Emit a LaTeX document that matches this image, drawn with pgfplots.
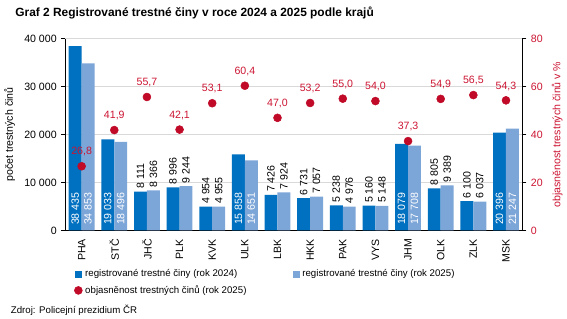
\documentclass[border=0pt]{standalone}
\usepackage{graphicx}
\usepackage{pgfplots}
\pgfplotsset{compat=1.18}
\usepackage{pgfplotstable}
\usepackage{fontspec}
\setmainfont{Liberation Sans}
\definecolor{dblue}{RGB}{0,112,192}
\definecolor{lblue}{RGB}{124,165,216}
\definecolor{dred}{RGB}{192,10,40}
\definecolor{tred}{RGB}{204,20,50}
\pgfplotstableread{
x a24 a25 clr
0 38435 34853 26.8
1 19033 18496 41.9
2 8111 8366 55.7
3 8996 9244 42.1
4 4954 4955 53.1
5 15858 14651 60.4
6 7426 7924 47.0
7 6731 7057 53.2
8 5238 4976 55.0
9 5160 5148 54.0
10 18079 17708 37.3
11 8805 9389 54.9
12 6100 6037 56.5
13 20396 21247 54.3
}\data
\newcommand{\fs}{\fontsize{8}{9.5}\selectfont}
\newcommand{\fl}{\fontsize{7.3}{9}\selectfont}
\newcommand{\rotnum}{\rotatebox{90}{\pgfmathprintnumber[assume math mode=true, 1000 sep={\ }]{\pgfplotspointmeta}}}
\begin{document}
\begin{tikzpicture}
\pgfplotsset{
  common/.style={
    scale only axis, width=345pt, height=144.75pt,
    at={(0,0)}, anchor=south west,
    xmin=-0.5, xmax=13.5,
    tick align=outside, major tick length=3pt,
    tick style={black, thin},
    tick label style={font=\fs},
    label style={font=\fs},
    scaled y ticks=false,
    /pgf/number format/assume math mode=true,
    /pgf/number format/1000 sep={\ },
  },
}
\begin{axis}[common,
  ymin=0, ymax=40000, ytick={0,10000,20000,30000,40000},
  axis y line*=left, axis x line*=bottom,
  ymajorgrids, grid style={black!15, thin},
  xtick={0,...,13},
  xticklabels={PHA,STČ,JHČ,PLK,KVK,ULK,LBK,HKK,PAK,VYS,JHM,OLK,ZLK,MSK},
  x tick style={draw=none},
  xticklabel style={rotate=90, anchor=east, font=\fs},
  ylabel={počet trestných činů},
  legend style={at={(0.01,-0.176)}, anchor=north west, draw=none, fill=none,
    font=\fl, legend columns=2, row sep=1pt,
    /tikz/every even column/.append style={column sep=33pt}},
  legend cell align=left,
]
\addplot[ybar, bar width=9.75pt, bar shift=-4.875pt, fill=dblue, draw=none,
  legend image code/.code={\fill[dblue] (0pt,-2.6pt) rectangle (5.2pt,2.6pt);}]
  table[x=x, y=a24]{\data};
\addlegendentry{registrované trestné činy (rok 2024)}
\addplot[ybar, bar width=9.75pt, bar shift=4.875pt, fill=lblue, draw=none,
  legend image code/.code={\fill[lblue] (0pt,-2.6pt) rectangle (5.2pt,2.6pt);}]
  table[x=x, y=a25]{\data};
\addlegendentry{registrované trestné činy (rok 2025)}
% labels above small bars
\addplot[only marks, mark=none, forget plot, point meta=explicit,
  nodes near coords=\rotnum,
  nodes near coords style={font=\fs, text=black, anchor=south, inner sep=2pt},
  restrict expr to domain={\thisrow{a24}}{0:14000}]
  table[x expr=\thisrow{x}-0.198, y=a24, meta=a24]{\data};
\addplot[only marks, mark=none, forget plot, point meta=explicit,
  nodes near coords=\rotnum,
  nodes near coords style={font=\fs, text=black, anchor=south, inner sep=2pt},
  restrict expr to domain={\thisrow{a25}}{0:14000}]
  table[x expr=\thisrow{x}+0.198, y=a25, meta=a25]{\data};
% labels inside large bars
\addplot[only marks, mark=none, forget plot, point meta=explicit,
  nodes near coords=\rotnum,
  nodes near coords style={font=\fs, text=white, anchor=south, inner sep=4pt},
  restrict expr to domain={\thisrow{a24}}{14000:50000}]
  table[x expr=\thisrow{x}-0.198, y expr=0, meta=a24]{\data};
\addplot[only marks, mark=none, forget plot, point meta=explicit,
  nodes near coords=\rotnum,
  nodes near coords style={font=\fs, text=white, anchor=south, inner sep=4pt},
  restrict expr to domain={\thisrow{a25}}{14000:50000}]
  table[x expr=\thisrow{x}+0.198, y expr=0, meta=a25]{\data};
\addlegendimage{only marks, mark=*, mark size=3pt, color=dred,
  legend image code/.code={\fill[dred] (2.6pt,0pt) circle (3pt);}}
\addlegendentry{objasněnost trestných činů (rok 2025)}
\end{axis}
\begin{axis}[common,
  ymin=0, ymax=80, ytick={0,20,40,60,80},
  axis y line*=right, axis x line=none,
  yticklabel style={text=tred},
  ylabel={objasněnost trestných činů v \%},
  ylabel style={text=tred},
]
\addplot[only marks, mark=*, mark size=3pt, color=dred, point meta=explicit,
  nodes near coords={\pgfmathprintnumber[fixed, fixed zerofill, precision=1, use comma]{\pgfplotspointmeta}},
  nodes near coords style={text=tred, font=\fs, anchor=south, yshift=4pt}]
  table[x=x, y=clr, meta=clr]{\data};
\end{axis}
\node[anchor=base west, font=\fontsize{9}{11}\selectfont\bfseries] at (-41.25pt,161.25pt)
  {Graf 2 Registrované trestné činy v roce 2024 a 2025 podle krajů};
\node[anchor=base west, font=\fl, inner sep=0pt] at (-41.25pt,-63pt)
  {Zdroj: Policejní prezidium ČR};
\useasboundingbox (-47.25pt,-66.75pt) rectangle (378pt,174pt);
\end{tikzpicture}
\end{document}
